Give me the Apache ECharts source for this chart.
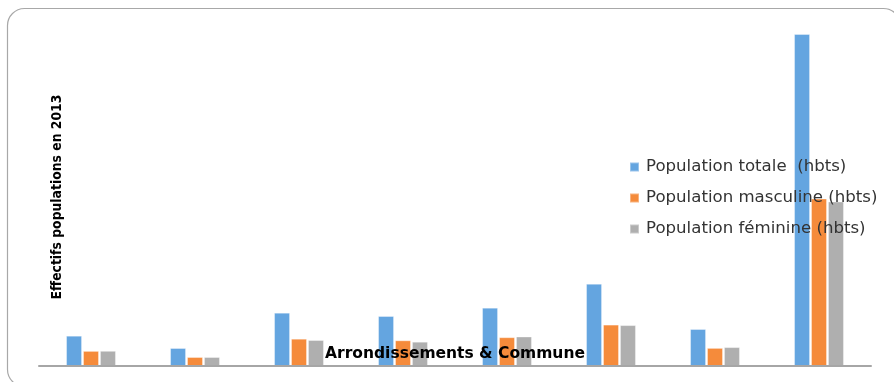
<!DOCTYPE html>
<html>
<head>
<meta charset="utf-8">
<title>Effectifs populations en 2013</title>
<script src="https://cdn.jsdelivr.net/npm/echarts@6/dist/echarts.min.js"></script>
<style>
  html, body { margin: 0; padding: 0; background: #fff; }
  #chart { width: 894px; height: 382px; }
</style>
</head>
<body>
<div id="chart"></div>
<script>
// Arrondissements and the commune (labels are not printed under the axis)
const categories = ['Arr. 1', 'Arr. 2', 'Arr. 3', 'Arr. 4', 'Arr. 5', 'Arr. 6', 'Arr. 7', 'Commune'];

// Population counts in 2013 (hbts)
const populationTotale    = [30300, 18000, 53300, 50000, 58300, 82300, 37000, 332000];
const populationMasculine = [15100,  9000, 27300, 25700, 28800, 41400, 18100, 167500];
const populationFeminine  = [15200,  9000, 26000, 24300, 29500, 40900, 18900, 164500];

const seriesNames = ['Population totale  (hbts)', 'Population masculine (hbts)', 'Population féminine (hbts)'];
const colors = ['#64a5e0', '#f58b3b', '#afafaf'];

const chart = echarts.init(document.getElementById('chart'), null, { renderer: 'canvas' });

const barStyle = (c) => ({
  color: c,
  borderColor: 'rgba(255,255,255,0.35)',
  borderWidth: 1
});

chart.setOption({
  animation: false,
  backgroundColor: '#fff',
  color: colors,
  grid: { left: 39, right: 23, top: 16, bottom: 16, containLabel: false },
  graphic: [
    {
      type: 'rect',
      z: -10,
      silent: true,
      shape: { x: 7.5, y: 8.5, width: 893, height: 378, r: 17 },
      style: { fill: 'none', stroke: '#a8a8a8', lineWidth: 1.2 }
    },
    {
      type: 'text',
      z: 10,
      silent: true,
      x: 57,
      y: 197,
      rotation: Math.PI / 2,
      style: {
        text: 'Effectifs populations en 2013',
        fontFamily: 'DejaVu Sans Condensed',
        fontWeight: 'bold',
        fontSize: 13.8,
        fill: '#000',
        align: 'center',
        verticalAlign: 'middle'
      }
    }
  ],
  legend: {
    orient: 'vertical',
    left: 624,
    top: 152,
    itemWidth: 9,
    itemHeight: 9,
    itemGap: 11,
    icon: 'rect',
    z: 20,
    textStyle: {
      fontFamily: 'DejaVu Sans',
      fontSize: 16.6,
      lineHeight: 20,
      color: '#333333',
      padding: [0, 0, 0, 2]
    },
    data: seriesNames
  },
  xAxis: {
    type: 'category',
    data: categories,
    z: 10,
    name: 'Arrondissements & Commune',
    nameLocation: 'middle',
    nameGap: -20,
    nameTextStyle: {
      fontFamily: 'DejaVu Sans',
      fontWeight: 'bold',
      fontSize: 15.5,
      color: '#000'
    },
    axisLine: { show: true, lineStyle: { color: '#a6a6a6', width: 2 } },
    axisTick: { show: false },
    axisLabel: { show: false },
    splitLine: { show: false }
  },
  yAxis: {
    type: 'value',
    min: 0,
    max: 350000,
    axisLine: { show: false },
    axisTick: { show: false },
    axisLabel: { show: false },
    splitLine: { show: false }
  },
  series: [
    { name: seriesNames[0], type: 'bar', data: populationTotale,    barWidth: 16, barGap: '6%', itemStyle: barStyle(colors[0]) },
    { name: seriesNames[1], type: 'bar', data: populationMasculine, barWidth: 16, barGap: '6%', itemStyle: barStyle(colors[1]) },
    { name: seriesNames[2], type: 'bar', data: populationFeminine,  barWidth: 16, barGap: '6%', itemStyle: barStyle(colors[2]) }
  ]
});
</script>
</body>
</html>
